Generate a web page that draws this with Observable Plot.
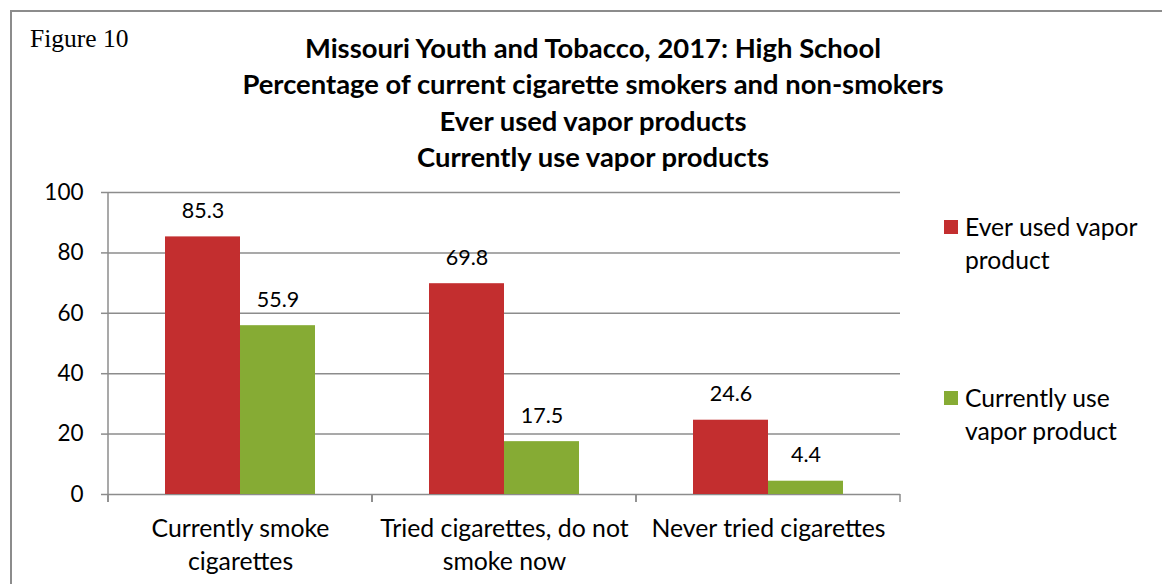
<!DOCTYPE html>
<html><head><meta charset="utf-8">
<script src="https://cdn.jsdelivr.net/npm/d3@7"></script>
<script src="https://cdn.jsdelivr.net/npm/@observablehq/plot@0.6"></script>
<style>
body{margin:0;background:#fff;}
#wrap{position:relative;width:1162px;height:584px;overflow:hidden;font-family:Lato,"Open Sans",sans-serif;color:#000;background:#fff;}
#frame{position:absolute;left:10px;top:10px;width:1300px;height:700px;border-left:2px solid #8c8c8c;border-top:2px solid #8c8c8c;}
#fig{position:absolute;left:30px;top:24px;font-family:"Liberation Serif","DejaVu Serif",serif;font-size:25.5px;line-height:30px;}
#title{position:absolute;left:93px;width:1000px;top:30px;text-align:center;font-weight:bold;font-size:27.4px;line-height:36.3px;white-space:pre;}
#chart{position:absolute;left:0;top:170px;}
.sw{position:absolute;width:14px;height:14px;}
.lt{position:absolute;font-size:24.7px;line-height:32.5px;white-space:pre;}
</style>
</head><body>
<div id="wrap">
  <div id="frame"></div>
  <div id="fig">Figure 10</div>
  <div id="title"></div>
  <div id="chart"></div>
  <div id="legend"></div>
</div>
<script>
const titleLines = ["Missouri Youth and Tobacco, 2017: High School", "Percentage of current cigarette smokers and non-smokers", "Ever used vapor products", "Currently use vapor products"];
const categories = ["Currently smoke cigarettes", "Tried cigarettes, do not smoke now", "Never tried cigarettes"];
const categoryLabels = ["Currently smoke\ncigarettes", "Tried cigarettes, do not\nsmoke now", "Never tried cigarettes"];
const series = ["Ever used vapor product", "Currently use vapor product"];
const legendLabels = ["Ever used vapor\nproduct", "Currently use\nvapor product"];
const everUsed = [85.3, 69.8, 24.6];
const currentlyUse = [55.9, 17.5, 4.4];
const colors = ["#C32E2F", "#86AB34"];
const yTicks = [0, 20, 40, 60, 80, 100];

document.getElementById("title").textContent = titleLines.join("\n");

const data = categories.flatMap((c, i) => [
  {category: c, series: series[0], value: everUsed[i]},
  {category: c, series: series[1], value: currentlyUse[i]}
]);
const catData = categories.map((c, i) => ({category: c, label: categoryLabels[i]}));
const axisGray = "#8c8c8c";

function decor(rows, drawAxis) {
  return Plot.ruleY(rows, {
    fx: d => d, y: () => 0,
    render: (index, scales) => {
      const g = d3.create("svg:g").attr("stroke", axisGray).attr("stroke-width", 1.5);
      if (!index.length) return g.node();
      const [x0, x1] = scales.x.range();
      const y0 = scales.y(0);
      for (const xx of [x0, x1]) {
        g.append("line").attr("x1", xx).attr("x2", xx).attr("y1", y0).attr("y2", y0 + 8);
      }
      if (drawAxis) {
        g.append("line").attr("x1", x0).attr("x2", x0).attr("y1", scales.y(100)).attr("y2", y0);
      }
      return g.node();
    }
  });
}

const chart = Plot.plot({
  width: 1162, height: 414,
  marginTop: 22, marginBottom: 90, marginLeft: 107, marginRight: 261,
  style: {fontFamily: "Lato, 'Open Sans', sans-serif", fontSize: "22px", background: "transparent", overflow: "visible"},
  fx: {domain: categories, padding: 0, axis: null},
  x: {domain: series, paddingInner: 0, paddingOuter: 0.76, axis: null},
  y: {domain: [0, 100], axis: null},
  color: {domain: series, range: colors},
  marks: [
    Plot.gridY(yTicks, {stroke: axisGray, strokeOpacity: 1, strokeWidth: 1.5}),
    Plot.barY(data, {fx: "category", x: "series", y: "value", fill: "series"}),
    Plot.text(data, {fx: "category", x: "series", y: "value", text: d => d.value.toFixed(1), dy: -26, lineAnchor: "middle", fontSize: 21.5, fill: "#000"}),
    Plot.axisY({ticks: yTicks, label: null, tickSize: 7, tickPadding: 18, stroke: axisGray, strokeWidth: 1.5, fill: "#000", fontSize: 22.5}),
    Plot.text(catData, {fx: "category", text: "label", frameAnchor: "bottom", lineAnchor: "top", dy: 19, lineHeight: 1.34, fontSize: 24.8, fill: "#000"}),
    decor(categories, false),
    decor([categories[0]], true)
  ]
});
document.getElementById("chart").appendChild(chart);

const legend = document.getElementById("legend");
const legendTops = [220, 391];
series.forEach((s, i) => {
  const sw = document.createElement("div");
  sw.className = "sw";
  sw.style.left = "944px"; sw.style.top = legendTops[i] + "px"; sw.style.background = colors[i];
  legend.appendChild(sw);
  const t = document.createElement("div");
  t.className = "lt";
  t.style.left = "965px"; t.style.top = (legendTops[i] - 9) + "px";
  t.textContent = legendLabels[i];
  legend.appendChild(t);
});
</script>
</body></html>
